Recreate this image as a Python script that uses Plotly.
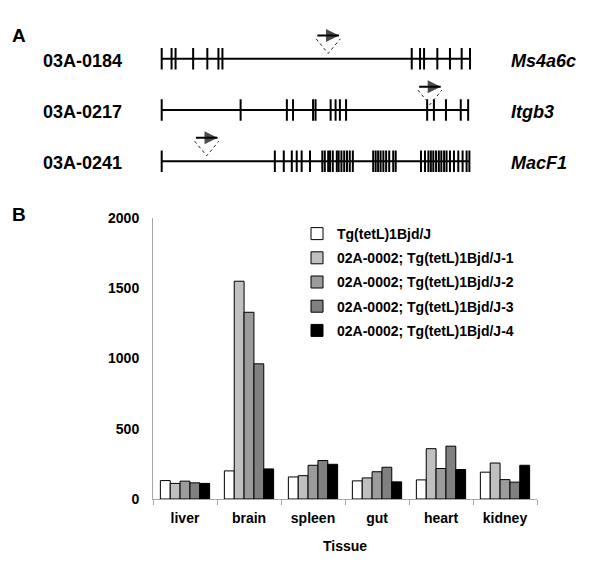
import plotly.graph_objects as go

# ---------------- Panel B data ----------------
tissues = ["liver", "brain", "spleen", "gut", "heart", "kidney"]
series_names = [
    "Tg(tetL)1Bjd/J",
    "02A-0002; Tg(tetL)1Bjd/J-1",
    "02A-0002; Tg(tetL)1Bjd/J-2",
    "02A-0002; Tg(tetL)1Bjd/J-3",
    "02A-0002; Tg(tetL)1Bjd/J-4",
]
ctrl = [131, 200, 157, 129, 136, 191]
line1 = [111, 1550, 166, 150, 358, 256]
line2 = [127, 1329, 240, 194, 217, 138]
line3 = [115, 962, 274, 226, 376, 120]
line4 = [111, 214, 247, 122, 210, 240]
series_values = [ctrl, line1, line2, line3, line4]
y_ticks = [0, 500, 1000, 1500, 2000]

# ---------------- Panel A data ----------------
clone_ids = ["03A-0184", "03A-0217", "03A-0241"]
gene_names = ["Ms4a6c", "Itgb3", "MacF1"]
gene_lengths = [100, 99.5, 99.8]
exons_ms4a6c = [0, 3.2, 4.5, 10.2, 14.8, 18.4, 19.7,
                81.1, 83.8, 85.1, 89.4, 93.5, 97.3, 100]
exons_itgb3 = [0, 25.6, 40.6, 42.6, 49.1, 49.9, 54.8, 56.4, 57.8, 59.8,
               86.1, 88.3, 92.2, 97.0, 99.4]
exons_macf1 = [0, 36.7, 39.6, 42.2, 43.8, 45.4, 48.1,
               52.1, 52.9, 54.0, 54.6, 55.5, 56.8, 57.4, 58.3, 59.2, 60.1, 61.0, 62.0,
               68.6, 69.4, 70.2, 71.0, 71.9, 72.8, 73.8, 75.1, 75.9,
               84.1, 85.4, 86.5, 87.3, 88.1, 89.0, 89.9, 90.7, 91.6, 92.4, 93.5,
               94.8, 96.2, 97.6, 98.9, 99.8]
gene_exons = [exons_ms4a6c, exons_itgb3, exons_macf1]
insertion_sites = [54.0, 87.0, 14.6]

FONT = "Arial, Liberation Sans, sans-serif"
colors = ["#ffffff", "#c0c0c0", "#9c9c9c", "#808080", "#000000"]

fig = go.Figure()

# ---------- bars ----------
for i, (name, vals) in enumerate(zip(series_names, series_values)):
    fig.add_trace(go.Bar(
        x=tissues, y=vals, name=name,
        marker=dict(color=colors[i], line=dict(color="#000000", width=1)),
        legendgroup=f"g{i}",
        xaxis="x", yaxis="y",
    ))

# ---------- gene diagrams ----------
tick_h = 0.21
for row, (exons, length) in enumerate(zip(gene_exons, gene_lengths)):
    fig.add_trace(go.Scatter(
        x=[0, length], y=[row, row], mode="lines",
        line=dict(color="#000000", width=2), showlegend=False,
        hoverinfo="skip", xaxis="x2", yaxis="y2"))
    xs, ys = [], []
    for e in exons:
        xs += [e, e, None]
        ys += [row - tick_h, row + tick_h, None]
    fig.add_trace(go.Scatter(
        x=xs, y=ys, mode="lines",
        line=dict(color="#000000", width=2), showlegend=False,
        hoverinfo="skip", xaxis="x2", yaxis="y2"))

# insertion markers: dotted V + arrow
v_half = 3.9
v_top = 0.39
v_apex = 0.105
arr_y = 0.456
for row, site in enumerate(insertion_sites):
    fig.add_trace(go.Scatter(
        x=[site - v_half, site, site + v_half],
        y=[row - v_top, row - v_apex, row - v_top],
        mode="lines", line=dict(color="#222222", width=1, dash="dot"),
        showlegend=False, hoverinfo="skip", xaxis="x2", yaxis="y2"))
    fig.add_trace(go.Scatter(
        x=[site - 3.5, site + 3.5], y=[row - arr_y, row - arr_y],
        mode="lines+markers",
        line=dict(color="#000000", width=2),
        marker=dict(symbol=["circle", "arrow-right"], size=[0, 13],
                    color="#000000", line=dict(width=0)),
        showlegend=False, hoverinfo="skip", xaxis="x2", yaxis="y2"))

annotations = []
for row, (cid, gname) in enumerate(zip(clone_ids, gene_names)):
    annotations.append(dict(
        text=f"<b>{cid}</b>", xref="paper", yref="y2", x=41.0 / 600, y=row + 0.04,
        xanchor="left", yanchor="middle", showarrow=False,
        font=dict(family=FONT, size=18, color="#000000")))
    annotations.append(dict(
        text=f"<b><i>{gname}</i></b>", xref="paper", yref="y2", x=509.0 / 600, y=row + 0.04,
        xanchor="left", yanchor="middle", showarrow=False,
        font=dict(family=FONT, size=18, color="#000000")))
annotations.append(dict(text="<b>A</b>", xref="paper", yref="paper",
                        x=10 / 600, y=1 - 28 / 577, xanchor="left", yanchor="middle",
                        showarrow=False, font=dict(family=FONT, size=19, color="#000000")))
annotations.append(dict(text="<b>B</b>", xref="paper", yref="paper",
                        x=10 / 600, y=1 - 212 / 577, xanchor="left", yanchor="middle",
                        showarrow=False, font=dict(family=FONT, size=19, color="#000000")))

axis_gray = "#a6a6a6"
fig.update_layout(
    width=600, height=577, autosize=False,
    margin=dict(l=0, r=0, t=0, b=0),
    paper_bgcolor="#ffffff", plot_bgcolor="#ffffff",
    barmode="group", bargap=0.23, bargroupgap=0,
    font=dict(family=FONT, size=14, color="#000000"),
    showlegend=True,
    legend=dict(
        x=297 / 600, y=1 - 216 / 577, xanchor="left", yanchor="top",
        font=dict(family=FONT, size=14, color="#000000", weight="bold"),
        tracegroupgap=3, bgcolor="rgba(0,0,0,0)", itemclick=False,
    ),
    xaxis=dict(
        domain=[153 / 600, 537 / 600], anchor="y",
        showline=True, linecolor=axis_gray, linewidth=1,
        ticks="outside", tickson="boundaries", ticklen=5, tickcolor=axis_gray,
        tickfont=dict(family=FONT, size=14, color="#000000", weight="bold"),
        ticklabelstandoff=6,
        title=dict(text="Tissue", font=dict(family=FONT, size=14, color="#000000", weight="bold"),
                   standoff=16),
        showgrid=False, zeroline=False,
    ),
    yaxis=dict(
        domain=[72 / 577, 361 / 577], anchor="x",
        range=[0, 2000], tickvals=y_ticks,
        showline=True, linecolor=axis_gray, linewidth=1,
        ticks="", ticklabelstandoff=10,
        tickfont=dict(family=FONT, size=14, color="#000000", weight="bold"),
        showgrid=False, zeroline=False,
    ),
    xaxis2=dict(
        domain=[(161.7 - 2 * 3.083) / 600, (470 + 2 * 3.083) / 600], anchor="y2",
        range=[-2, 102], visible=False, fixedrange=True,
    ),
    yaxis2=dict(
        domain=[(577 - 189.1) / 577, (577 - 20.7) / 577], anchor="x2",
        range=[2.6, -0.6], visible=False, fixedrange=True,
    ),
    annotations=annotations,
)

fig.write_html(
    "out.html",
    config={"displayModeBar": False},
    post_script="document.body.style.margin='0';document.body.style.padding='0';",
)
